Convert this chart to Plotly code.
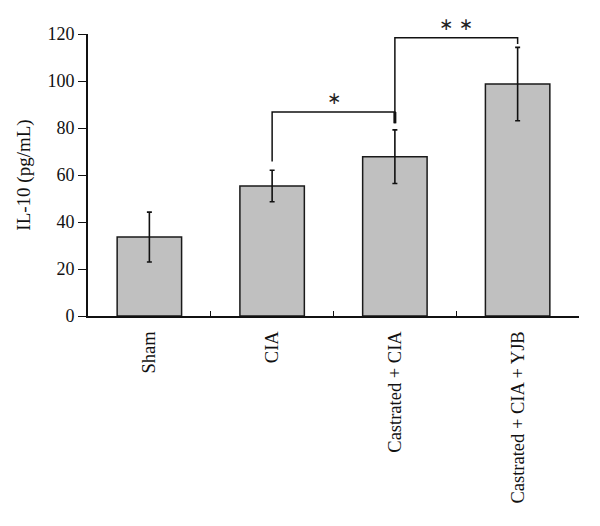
import plotly.graph_objects as go

categories = ["Sham", "CIA", "Castrated + CIA", "Castrated + CIA + YJB"]
means = [33.6, 55.3, 67.8, 98.7]
errors = [10.6, 6.7, 11.4, 15.6]
y_ticks = [0, 20, 40, 60, 80, 100, 120]

# significance brackets: (left idx, right idx, left-leg bottom, top, right-leg bottom, label)
bracket_single = (1, 2, 65.7, 86.8, 82.0, "∗")
bracket_double = (2, 3, 86.8, 118.4, 115.7, "∗ ∗")

FONT = "Liberation Serif, Times New Roman, serif"

fig = go.Figure()
fig.add_trace(go.Bar(
    x=categories, y=means,
    marker=dict(color="#c0c0c0", line=dict(color="#1a1a1a", width=1.5)),
    error_y=dict(type="data", array=errors, visible=True, color="#111111",
                 thickness=1.6, width=2.5),
    width=0.525,
    showlegend=False,
))

shapes = []
annotations = []
for (i0, i1, yb0, ytop, yb1, lab) in [bracket_single, bracket_double]:
    shapes.append(dict(type="path", xref="x", yref="y",
                       path=f"M {i0} {yb0} L {i0} {ytop} L {i1} {ytop} L {i1} {yb1}",
                       line=dict(color="#111111", width=1.5)))
    annotations.append(dict(x=(i0 + i1) / 2, y=ytop, xref="x", yref="y",
                            text=lab, showarrow=False, yanchor="bottom", yshift=2,
                            font=dict(family="DejaVu Sans, sans-serif", size=17, color="#222222")))
# thicker short segment at the junction below the single bracket
shapes.append(dict(type="line", xref="x", yref="y",
                   x0=bracket_single[1], x1=bracket_single[1],
                   y0=bracket_single[3], y1=bracket_single[4],
                   line=dict(color="#111111", width=3)))

fig.update_layout(
    width=592, height=518,
    margin=dict(l=80, r=21, t=26, b=210),
    paper_bgcolor="white", plot_bgcolor="white",
    font=dict(family=FONT, size=18, color="#111111"),
    shapes=shapes, annotations=annotations,
    xaxis=dict(
        range=[-0.5, 3.5], showline=True, linecolor="#111111", linewidth=1.8,
        ticks="inside", ticklen=5, tickwidth=1.2, tickcolor="#111111",
        tickson="boundaries", tickangle=-90, showgrid=False, zeroline=False,
        tickfont=dict(family=FONT, size=18.5, color="#111111"),
        ticklabelstandoff=6,
    ),
    yaxis=dict(
        range=[0, 120], tickvals=y_ticks, showline=True, linecolor="#111111",
        linewidth=1.8, ticks="outside", ticklen=8, tickwidth=1.2,
        tickcolor="#111111", showgrid=False, zeroline=False,
        tickfont=dict(family=FONT, size=18, color="#111111"),
        title=dict(text="IL-10 (pg/mL)", standoff=12,
                   font=dict(family=FONT, size=19, color="#111111")),
    ),
)

fig.write_html("out.html")
